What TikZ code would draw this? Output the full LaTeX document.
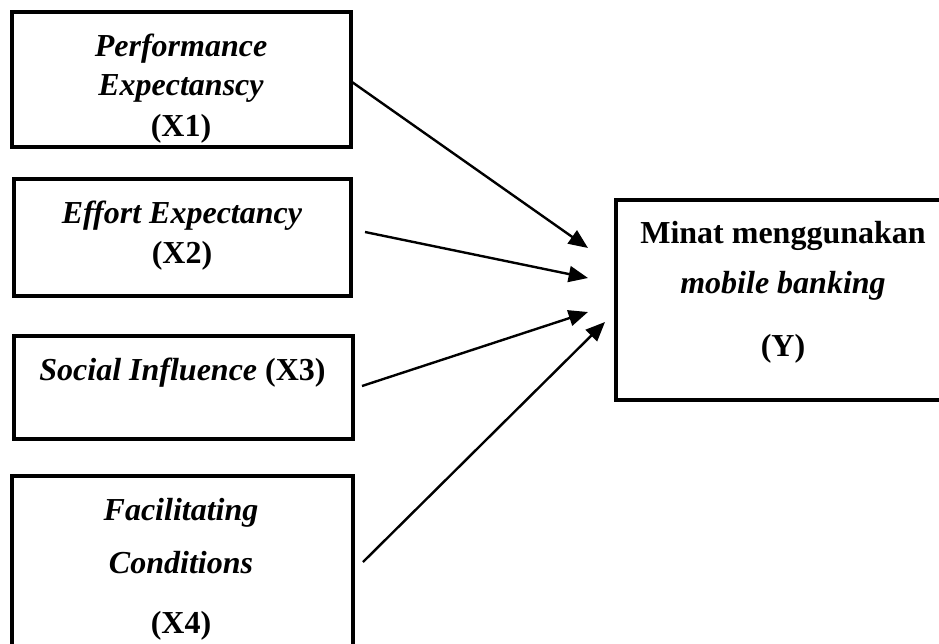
\documentclass[tikz,border=0pt]{standalone}
\usepackage{fontspec}
\setmainfont{Liberation Serif}
\usetikzlibrary{arrows.meta}
\begin{document}
\begin{tikzpicture}[x=0.75pt,y=-0.75pt,
  varbox/.style={draw,line width=3pt,inner sep=0pt,outer sep=0pt},
  lbl/.style={anchor=base,inner sep=0pt,font=\fontsize{24}{28}\selectfont},
  link/.style={line width=1.8pt,-{Triangle[length=14.5pt,width=12pt]}}]
\useasboundingbox (0,0) rectangle (939,643);
\clip (0,0) rectangle (939,643);
% boxes
\node[varbox,minimum width=254.25pt,minimum height=101.25pt] (x1) at (181.5,79.5) {};
\node[varbox,minimum width=252.75pt,minimum height=87.75pt] (x2) at (182.5,237.5) {};
\node[varbox,minimum width=254.25pt,minimum height=77.25pt] (x3) at (183.5,387.5) {};
\node[varbox,minimum width=255.75pt,minimum height=153pt] (x4) at (182.5,578) {};
\node[varbox,minimum width=258pt,minimum height=150pt] (y) at (788,300) {};
% texts
\node[lbl] (t1a) at (181,56) {\textbf{\textit{Performance}}};
\node[lbl] (t1b) at (181,95) {\textbf{\textit{Expectanscy}}};
\node[lbl] (t1c) at (181,136) {\textbf{(X1)}};
\node[lbl] (t2a) at (182,223) {\textbf{\textit{Effort Expectancy}}};
\node[lbl] (t2b) at (182,263) {\textbf{(X2)}};
\node[lbl] (t3a) at (182.5,380) {\textbf{\textit{Social Influence} (X3)}};
\node[lbl] (t4a) at (181,520) {\textbf{\textit{Facilitating}}};
\node[lbl] (t4b) at (181,573) {\textbf{\textit{Conditions}}};
\node[lbl] (t4c) at (181,633) {\textbf{(X4)}};
\node[lbl] (tya) at (783,243) {\textbf{Minat menggunakan}};
\node[lbl] (tyb) at (783,293) {\textbf{\textit{mobile banking}}};
\node[lbl] (tyc) at (783,356) {\textbf{(Y)}};
% connector ends
\coordinate (s1) at (352,82);
\coordinate (e1) at (588,248);
\coordinate (s2) at (365,232);
\coordinate (e2) at (588,278);
\coordinate (s3) at (362,386);
\coordinate (e3) at (588,312);
\coordinate (s4) at (363,562);
\coordinate (e4) at (605,322);
\draw[link] (s1) -- (e1);
\draw[link] (s2) -- (e2);
\draw[link] (s3) -- (e3);
\draw[link] (s4) -- (e4);
\end{tikzpicture}
\end{document}
